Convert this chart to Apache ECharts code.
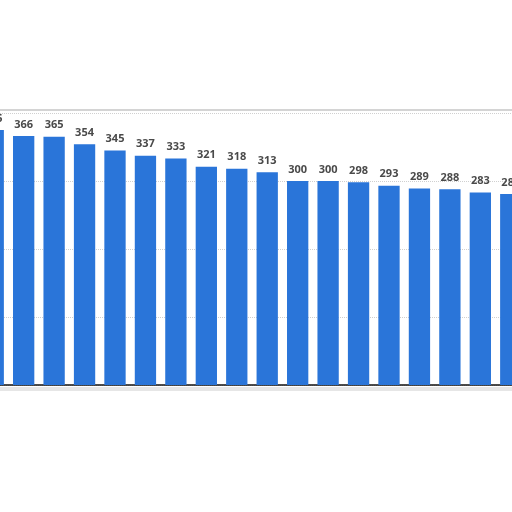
<!DOCTYPE html>
<html lang="en">
<head>
    <meta charset="UTF-8">
    <title>Bar chart</title>
    <script src="https://cdn.jsdelivr.net/npm/echarts@6/dist/echarts.min.js"></script>
    <style>
        html, body { margin: 0; padding: 0; background: #fff; }
    </style>
</head>
<body>
<div id="main" style="width: 512px;height:512px;"></div>

<script type="text/javascript">
    // categories are not visible in the crop, so plain indices
    var categories = ['1', '2', '3', '4', '5', '6', '7', '8', '9',
        '10', '11', '12', '13', '14', '15', '16', '17', '18'];
    var values = [375, 366, 365, 354, 345, 337, 333, 321, 318,
        313, 300, 300, 298, 293, 289, 288, 283, 281];
    var yTicks = [0, 100, 200, 300, 400];

    var myChart = echarts.init(document.getElementById('main'));

    var option = {
        animation: false,
        backgroundColor: '#fff',
        grid: {
            left: -22,
            right: -14,
            top: 113,
            bottom: 127,
            outerBoundsMode: 'none',
            containLabel: false
        },
        graphic: [
            {
                type: 'line',
                shape: { x1: 0, y1: 110, x2: 512, y2: 110 },
                style: { stroke: '#d4d4d4', lineWidth: 2 }
            },
            {
                type: 'line',
                shape: { x1: 0, y1: 389, x2: 512, y2: 389 },
                style: { stroke: '#e6e6e6', lineWidth: 4 }
            }
        ],
        xAxis: {
            type: 'category',
            data: categories,
            axisLine: { lineStyle: { color: '#111', width: 1.5 } },
            axisTick: { show: false },
            axisLabel: { show: false }
        },
        yAxis: {
            type: 'value',
            min: yTicks[0],
            max: yTicks[yTicks.length - 1],
            interval: 100,
            axisLabel: { show: false },
            axisLine: { show: false },
            axisTick: { show: false },
            splitLine: {
                lineStyle: { color: '#d0d0d0', type: 'dotted', width: 1 }
            }
        },
        series: [
            {
                type: 'bar',
                data: values,
                barCategoryGap: '30%',
                itemStyle: { color: '#2a75d9' },
                label: {
                    show: true,
                    position: 'top',
                    distance: 6,
                    color: '#4a4a4a',
                    fontFamily: 'Open Sans',
                    fontWeight: 'bold',
                    fontSize: 11
                }
            }
        ]
    };
    myChart.setOption(option);
</script>
</body>
</html>
